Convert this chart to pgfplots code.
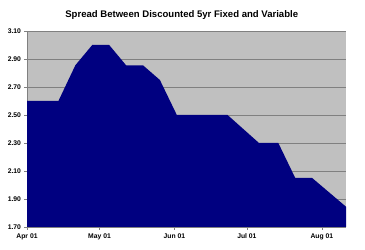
\documentclass[border=0pt]{standalone}
\usepackage{fontspec}
\setmainfont{Liberation Sans}
\usepackage{pgfplots}
\pgfplotsset{compat=1.18}
\definecolor{navyfill}{HTML}{000080}
\definecolor{plotbg}{HTML}{C0C0C0}
\definecolor{gridc}{HTML}{808080}
\begin{document}
\begin{tikzpicture}
\path[use as bounding box] (0,0) rectangle (365bp,250bp);
\begin{axis}[
  at={(27bp,23bp)}, anchor=south west,
  scale only axis, width=319bp, height=196bp,
  xmin=0, xmax=132, ymin=1.70, ymax=3.10,
  axis background/.style={fill=plotbg},
  axis line style={draw=gridc},
  axis x line*=bottom, axis y line*=left,
  xtick={0,30,61,91,122},
  xticklabels={Apr 01,May 01,Jun 01,Jul 01,Aug 01},
  ytick={1.70,1.90,2.10,2.30,2.50,2.70,2.90,3.10},
  yticklabel style={/pgf/number format/.cd,fixed,fixed zerofill,precision=2},
  /pgf/number format/assume math mode=true,
  tick label style={font=\fontsize{6.8}{7}\selectfont\bfseries},
  xticklabel style={yshift=-1bp},
  ymajorgrids, grid style={gridc, line width=0.6pt},
  tick align=outside, major tick length=2.5bp,
  tick style={gridc},
  xtick pos=bottom, ytick pos=left,
  title={\bfseries Spread Between Discounted 5yr Fixed and Variable},
  title style={font=\fontsize{9.6}{10}\selectfont, at={(0.485,1)}, yshift=2bp},
  clip=true, axis on top=false,
]
\addplot[fill=navyfill, draw=none] coordinates {
 (0,1.70) (0,2.60) (13,2.60) (20,2.855) (27,3.00) (34,3.00) (41,2.855) (48,2.855)
 (55,2.75) (62,2.50) (83,2.50) (96,2.30) (104,2.30) (111,2.05) (118,2.05) (132,1.845) (132,1.70)
} \closedcycle;
\end{axis}
\end{tikzpicture}
\end{document}
